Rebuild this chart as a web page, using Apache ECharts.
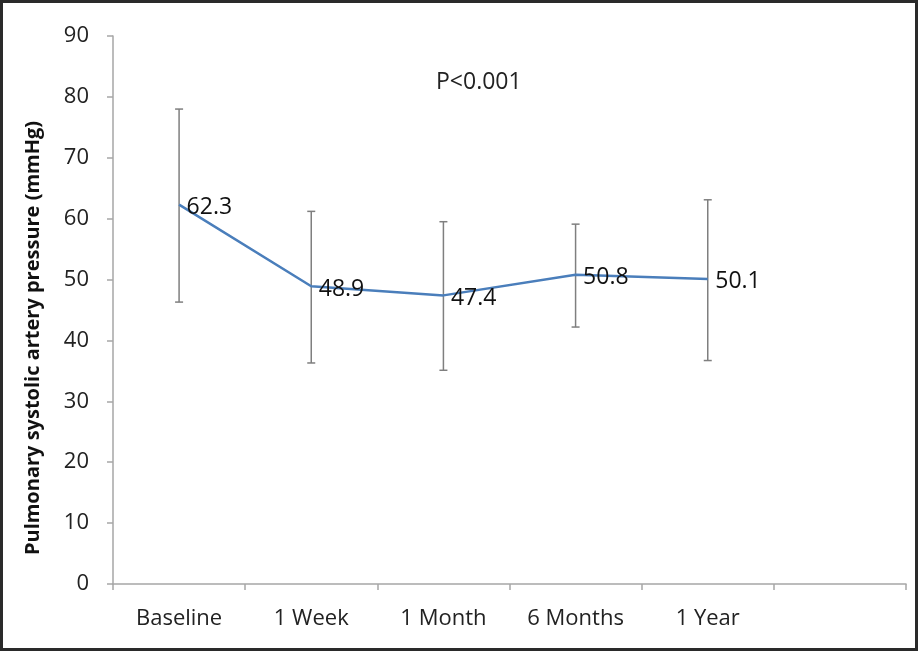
<!DOCTYPE html>
<html>
<head>
<meta charset="utf-8">
<script src="https://cdn.jsdelivr.net/npm/echarts@6/dist/echarts.min.js"></script>
<style>
  html, body { margin: 0; padding: 0; background: #fff; }
  #chart { width: 918px; height: 651px; }
</style>
</head>
<body>
<div id="chart"></div>
<script>
// Follow-up time points (last slot is an empty spacer category)
const categories = ['Baseline', '1 Week', '1 Month', '6 Months', '1 Year', ''];
// Mean pulmonary systolic artery pressure (mmHg)
const meanValues = [62.3, 48.9, 47.4, 50.8, 50.1];
// Error bar limits (mmHg)
const upperValues = [78.0, 61.2, 59.5, 59.1, 63.1];
const lowerValues = [46.3, 36.3, 35.1, 42.2, 36.7];
// Y axis ticks
const yTicks = [0, 10, 20, 30, 40, 50, 60, 70, 80, 90];

const FONT = '"Open Sans", Lato, sans-serif';

const errorData = meanValues.map((v, i) => [i, lowerValues[i], upperValues[i]]);

const chart = echarts.init(document.getElementById('chart'), null, { renderer: 'canvas' });

chart.setOption({
  animation: false,
  backgroundColor: '#fff',
  grid: { left: 113, right: 12, top: 36, bottom: 67 },
  xAxis: {
    type: 'category',
    data: categories,
    boundaryGap: true,
    axisLine: { lineStyle: { color: '#a6a6a6', width: 1.5 } },
    axisTick: { show: true, length: 6, inside: false, lineStyle: { color: '#a6a6a6', width: 1.5 } },
    axisLabel: { color: '#222', fontFamily: FONT, fontSize: 22, margin: 24 },
    splitLine: { show: false }
  },
  yAxis: {
    type: 'value',
    min: yTicks[0],
    max: yTicks[yTicks.length - 1],
    interval: 10,
    axisLine: { show: true, lineStyle: { color: '#a6a6a6', width: 1.5 } },
    axisTick: { show: true, length: 6, lineStyle: { color: '#a6a6a6', width: 1.5 } },
    axisLabel: { color: '#222', fontFamily: FONT, fontSize: 22, margin: 24 },
    splitLine: { show: false }
  },
  graphic: [
    {
      type: 'rect',
      shape: { x: 1.5, y: 1.5, width: 915, height: 648 },
      style: { fill: 'none', stroke: '#2a2a2a', lineWidth: 3 },
      z: 100
    },
    {
      type: 'text',
      left: 436,
      top: 71,
      style: { text: 'P<0.001', fill: '#222', font: '23px ' + FONT }
    },
    {
      type: 'text',
      x: 33,
      y: 338,
      rotation: Math.PI / 2,
      style: {
        text: 'Pulmonary systolic artery pressure (mmHg)',
        fill: '#111',
        font: 'bold 20px ' + FONT,
        align: 'center',
        verticalAlign: 'middle'
      }
    }
  ],
  series: [
    {
      type: 'custom',
      name: 'SD',
      data: errorData,
      z: 1,
      renderItem: function (params, api) {
        const x = api.coord([api.value(0), 0])[0];
        const lo = api.coord([api.value(0), api.value(1)])[1];
        const hi = api.coord([api.value(0), api.value(2)])[1];
        const cap = 4;
        const style = { stroke: '#7f7f7f', lineWidth: 1.5 };
        return {
          type: 'group',
          children: [
            { type: 'line', shape: { x1: x, y1: lo, x2: x, y2: hi }, style: style },
            { type: 'line', shape: { x1: x - cap, y1: hi, x2: x + cap, y2: hi }, style: style },
            { type: 'line', shape: { x1: x - cap, y1: lo, x2: x + cap, y2: lo }, style: style }
          ]
        };
      }
    },
    {
      type: 'line',
      name: 'Mean',
      data: meanValues,
      z: 2,
      symbol: 'circle',
      symbolSize: 1,
      showSymbol: true,
      itemStyle: { color: 'rgba(74,126,187,0)' },
      lineStyle: { color: '#4a7ebb', width: 2.5 },
      label: {
        show: true,
        position: 'right',
        distance: 7,
        offset: [0, 3],
        color: '#111',
        fontFamily: FONT,
        fontSize: 23,
        formatter: p => p.value.toFixed(1)
      }
    }
  ]
});
</script>
</body>
</html>
